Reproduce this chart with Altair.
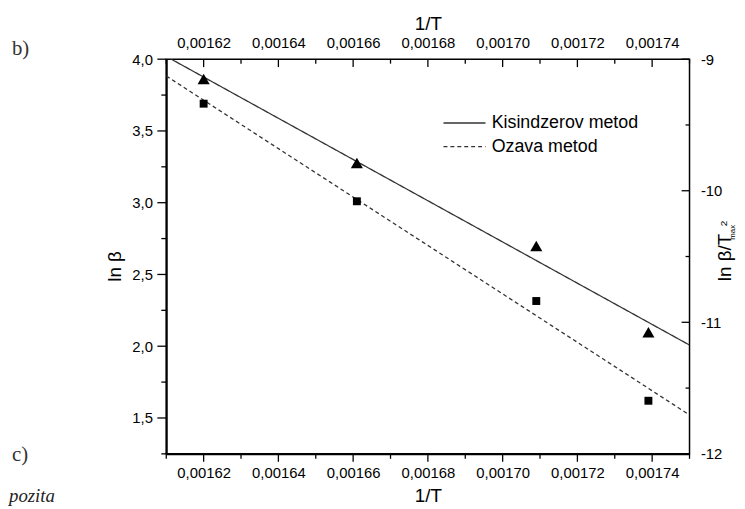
import altair as alt
import pandas as pd

FONT = "Liberation Sans"
SERIF = "Liberation Serif"

# measured points
inv_T = [0.001620, 0.001661, 0.001709, 0.001739]
ln_beta = [3.69, 3.01, 2.315, 1.62]            # Ozava (left axis)
ln_beta_T2 = [-9.15, -9.79, -10.42, -11.075]   # Kisindzerov (right axis)

# fitted lines (end points)
fit_x = [0.00161, 0.00175]
ozava_fit = [3.883, 1.521]
kis_fit = [-8.979, -11.173]

methods = ["Kisindzerov metod", "Ozava metod"]

# ticks
x_major = [0.00162, 0.00164, 0.00166, 0.00168, 0.00170, 0.00172, 0.00174]
x_minor = [0.00161, 0.00163, 0.00165, 0.00167, 0.00169, 0.00171, 0.00173, 0.00175]
yl_major = [1.5, 2.0, 2.5, 3.0, 3.5, 4.0]
yl_minor = [1.25, 1.75, 2.25, 2.75, 3.25, 3.75]
yr_major = [-12, -11, -10, -9]
yr_minor = [-11.5, -10.5, -9.5]

# page annotations
page_labels = ["b)", "c)"]
page_caption = ["pozita"]
right_title_sup = ["2"]
right_title_sub = ["max"]

xs = alt.Scale(domain=[0.00161, 0.00175], nice=False, zero=False)
yls = alt.Scale(domain=[1.25, 4.0], nice=False, zero=False)
yrs = alt.Scale(domain=[-12, -9], nice=False, zero=False)

x_label_expr = "replace(format(datum.value, '.5f'), '.', ',')"

common_axis = dict(ticks=False, tickSize=0, grid=False, labelFont=FONT, labelFontSize=15,
                   labelColor="black", titleFont=FONT, titleFontSize=19,
                   titleFontWeight="normal", titleColor="black")

x_bottom = alt.X("x:Q", scale=xs, axis=alt.Axis(
    orient="bottom", values=x_major, labelExpr=x_label_expr, domain=True,
    domainColor="black", domainWidth=2, labelPadding=12, title="1/T",
    titleY=48, titleBaseline="alphabetic", **common_axis))
x_top = alt.X("x:Q", scale=xs, axis=alt.Axis(
    orient="top", values=x_major, labelExpr=x_label_expr, domain=False,
    labelPadding=9, title="1/T", titleY=-30, titleBaseline="alphabetic",
    **common_axis))
y_left = alt.Y("y:Q", scale=yls, axis=alt.Axis(
    orient="left", values=yl_major,
    labelExpr="replace(format(datum.value, '.1f'), '.', ',')",
    domain=True, domainColor="black", domainWidth=2, labelPadding=14,
    title="ln β", titleAngle=270, titleX=-46, titleY=209,
    titleBaseline="alphabetic", titleAlign="center", **common_axis))
y_right = alt.Y("y:Q", scale=yrs, axis=alt.Axis(
    orient="right", values=yr_major, labelExpr="datum.value + ''",
    domain=False, labelPadding=11, title="ln β/T", titleAngle=270,
    titleX=41, titleY=200, titleBaseline="alphabetic", titleAlign="center",
    **common_axis))

sd = alt.StrokeDash("m:N", scale=alt.Scale(domain=methods, range=[[1, 0], [4, 3]]),
                    legend=alt.Legend(title=None, orient="none", legendX=288, legendY=51,
                                      symbolType="M-1.7,0H1.7", symbolSize=625,
                                      symbolStrokeColor="#333", symbolStrokeWidth=1.3,
                                      symbolFillColor="transparent",
                                      labelFont=FONT, labelFontSize=18, labelColor="black",
                                      labelOffset=14, rowPadding=1, padding=0))

df_sq = pd.DataFrame({"x": inv_T, "y": ln_beta})
df_tr = pd.DataFrame({"x": inv_T, "y": ln_beta_T2})
df_oz = pd.DataFrame({"x": fit_x, "y": ozava_fit, "m": [methods[1]] * 2})
df_ki = pd.DataFrame({"x": fit_x, "y": kis_fit, "m": [methods[0]] * 2})

squares = alt.Chart(df_sq).mark_point(shape="square", filled=True, size=64,
                                      color="black", opacity=1).encode(x=x_bottom, y=y_left)
oz_line = alt.Chart(df_oz).mark_line(color="#333", strokeWidth=1.3, clip=True).encode(
    x=x_bottom, y=y_left, strokeDash=sd)
layer_left = alt.layer(oz_line, squares)

triangles = alt.Chart(df_tr).mark_point(shape="triangle-up", filled=True, size=150,
                                        color="black", opacity=1).encode(x=x_top, y=y_right)
ki_line = alt.Chart(df_ki).mark_line(color="#333", strokeWidth=1.3, clip=True).encode(
    x=x_top, y=y_right, strokeDash=sd)
layer_right = alt.layer(ki_line, triangles)


def xticks(vals, y0, y1):
    return alt.Chart(pd.DataFrame({"t": vals})).mark_rule(color="black", strokeWidth=1.3).encode(
        x=alt.X("t:Q", scale=xs, axis=None), y=alt.value(y0), y2=alt.value(y1))


def yticks(vals, scale, x0, x1):
    return alt.Chart(pd.DataFrame({"t": vals})).mark_rule(color="black", strokeWidth=1.3).encode(
        y=alt.Y("t:Q", scale=scale, axis=None), x=alt.value(x0), x2=alt.value(x1))


ticks = [
    xticks(x_major, "height", {"expr": "height + 8"}),
    xticks(x_minor, "height", {"expr": "height + 5"}),
    xticks(x_major, 0, 8),
    xticks(x_minor, 0, 4.5),
    yticks(yl_major, yls, -9, 0),
    yticks(yl_minor, yls, -5, 0),
    yticks(yr_major, yrs, {"expr": "width - 8"}, "width"),
    yticks(yr_minor, yrs, {"expr": "width - 4"}, "width"),
]


def txt(value, x, y, **kw):
    return alt.Chart(alt.Data(values=[{"t": value}])).mark_text(**kw).encode(
        text="t:N", x=alt.value(x), y=alt.value(y))


texts = [
    txt(page_labels[0], -156, -4, font=SERIF, fontSize=21, color="#333", align="left",
        baseline="alphabetic"),
    txt(page_labels[1], -156, 406, font=SERIF, fontSize=21, color="#333", align="left",
        baseline="alphabetic"),
    txt(page_caption[0], -159, 448, font=SERIF, fontSize=19, fontStyle="italic",
        color="#222", align="left", baseline="alphabetic"),
    txt(right_title_sup[0], 563.5, 166, font=FONT, fontSize=10, color="black", angle=270,
        align="center", baseline="middle"),
    txt(right_title_sub[0], 572.5, 175, font=FONT, fontSize=8, color="black", angle=270,
        align="center", baseline="middle"),
]

chart = alt.layer(layer_left, layer_right, *ticks, *texts).resolve_scale(
    y="independent").resolve_axis(x="independent", y="independent").properties(
    width=529, height=399,
    autosize=alt.AutoSizeParams(type="none"),
    padding={"left": 160, "top": 49, "right": 48, "bottom": 53},
    background="white",
).configure_view(stroke="black", strokeWidth=1.5)

chart.save("out.html", embed_options={"renderer": "svg", "actions": False})
